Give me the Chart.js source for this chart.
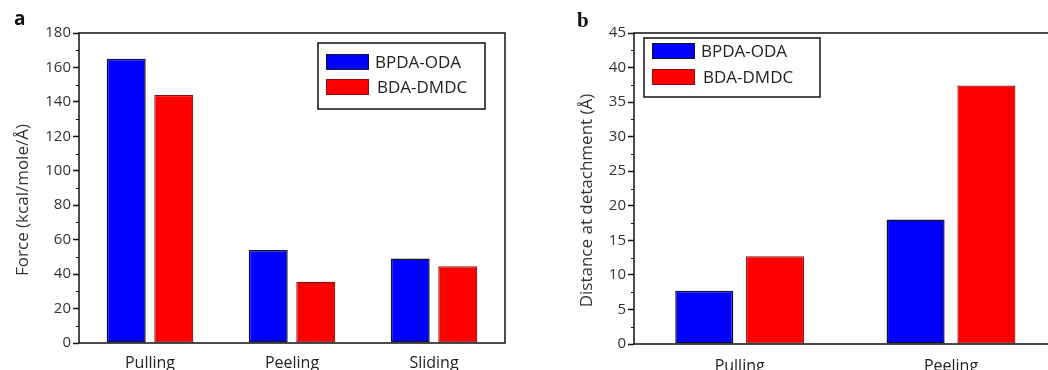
<!DOCTYPE html>
<html><head><meta charset="utf-8">
<script src="https://cdn.jsdelivr.net/npm/chart.js@4"></script>
<style>
html,body{margin:0;padding:0;width:1048px;height:370px;overflow:hidden;background:#fff;}
#wa{position:absolute;left:0;top:0;width:525px;height:370px;}
#wb{position:absolute;left:530px;top:0;width:760px;height:370px;}
.panel{position:absolute;font-weight:bold;color:#111;line-height:1;}
</style></head><body>
<div id="wa"><canvas id="ca"></canvas></div>
<div id="wb"><canvas id="cb"></canvas></div>
<div class="panel" style="left:14px;top:9px;font-family:'Open Sans',sans-serif;font-size:19px;">a</div>
<div class="panel" style="left:577px;top:10px;font-family:'Liberation Serif',serif;font-size:21px;">b</div>
<script>
// ---- data ----
const categoriesA = ['Pulling', 'Peeling', 'Sliding'];
const categoriesB = ['Pulling', 'Peeling', 'Sliding'];
const seriesNames = ['BPDA-ODA', 'BDA-DMDC'];
const forceBPDA = [165, 54, 49];
const forceBDA = [144, 35.5, 44.5];
const distBPDA = [7.7, 18, null];   // Sliding is outside the visible crop
const distBDA = [12.7, 37.4, null];
const ticksA = {max: 180, step: 20, minor: 10};
const ticksB = {max: 45, step: 5, minor: 2.5};

Chart.defaults.font.family = "'Open Sans', sans-serif";
Chart.defaults.color = '#333';
Chart.defaults.animation = false;

const frameAndMinor = {
  id: 'frameAndMinor',
  afterDraw(chart, args, opts) {
    const {ctx, chartArea: a} = chart;
    const y = chart.scales.y;
    ctx.save();
    ctx.strokeStyle = '#111';
    ctx.lineWidth = 1;
    for (let v = opts.minor; v < y.max; v += opts.minor * 2) {
      const py = Math.round(y.getPixelForValue(v)) + 0.5;
      ctx.beginPath(); ctx.moveTo(a.left - 3, py); ctx.lineTo(a.left, py); ctx.stroke();
    }
    ctx.lineWidth = 1.5;
    ctx.strokeRect(a.left, a.top, a.right - a.left, a.bottom - a.top);
    // y axis title
    ctx.save();
    ctx.translate(opts.titleX, (a.top + a.bottom) / 2 + opts.titleShift);
    ctx.rotate(-Math.PI / 2);
    ctx.font = "17px 'Open Sans', sans-serif";
    ctx.fillStyle = '#333';
    ctx.textAlign = 'center';
    ctx.textBaseline = 'middle';
    ctx.fillText(opts.title, 0, 0);
    ctx.restore();
    // legend
    const L = opts.legend;
    ctx.lineWidth = 1.5;
    ctx.strokeStyle = '#111';
    ctx.strokeRect(L.x, L.y, L.w, L.h);
    ctx.font = L.font + "px 'Open Sans', sans-serif";
    ctx.textBaseline = 'middle';
    ctx.textAlign = 'left';
    chart.data.datasets.forEach((ds, i) => {
      const sy = L.sy + i * L.gap;
      ctx.fillStyle = ds.backgroundColor;
      ctx.fillRect(L.sx, sy, L.sw, L.sh);
      ctx.lineWidth = 1;
      ctx.strokeStyle = ds.borderColor;
      ctx.strokeRect(L.sx + 0.5, sy + 0.5, L.sw - 1, L.sh - 1);
      ctx.fillStyle = '#222';
      ctx.fillText(ds.label, L.tx + (i === 1 ? 2 : 0), sy + L.sh / 2 + 1);
    });
    ctx.restore();
  }
};

function makeChart(id, cats, s1, s2, tk, yTitle, yWidth, xHeight, padRight, titleX, xPad, legend) {
  return new Chart(document.getElementById(id), {
    type: 'bar',
    data: {
      labels: cats,
      datasets: [
        {label: seriesNames[0], data: s1, backgroundColor: '#0000ff', borderColor: '#101030', borderWidth: 1.5, borderSkipped: false, categoryPercentage: 0.67, barPercentage: 0.82},
        {label: seriesNames[1], data: s2, backgroundColor: '#ff0000', borderColor: '#8a1010', borderWidth: 1.2, borderSkipped: false, categoryPercentage: 0.67, barPercentage: 0.82}
      ]
    },
    options: {
      responsive: true,
      maintainAspectRatio: false,
      layout: {padding: {top: 33, right: padRight, left: 0, bottom: 0}},
      plugins: {
        legend: {display: false},
        tooltip: {enabled: false},
        frameAndMinor: {minor: tk.minor, legend: legend, title: yTitle, titleX: titleX, titleShift: 12}
      },
      scales: {
        x: {
          grid: {display: false, drawTicks: false},
          border: {display: false},
          ticks: {color: '#222', font: {size: 16}, padding: xPad, maxRotation: 0, autoSkip: false},
          afterFit(s) { s.height = xHeight; }
        },
        y: {
          min: 0, max: tk.max,
          grid: {display: true, drawOnChartArea: false, drawTicks: true, tickLength: 6, tickColor: '#111', tickWidth: 1.5},
          border: {display: false},
          ticks: {stepSize: tk.step, color: '#333', font: {size: 15}, padding: 2},
          title: {display: false},
          afterFit(s) { s.width = yWidth; }
        }
      }
    },
    plugins: [frameAndMinor]
  });
}

makeChart('ca', categoriesA, forceBPDA, forceBDA, ticksA, 'Force (kcal/mole/Å)', 79, 27, 20, 23, 11,
  {x: 318, y: 43, w: 167, h: 66, sx: 326, sy: 54, sw: 43, sh: 16, gap: 25, tx: 375, font: 17});
makeChart('cb', categoriesB, distBPDA, distBDA, ticksB, 'Distance at detachment (Å)', 104, 26, 22, 57, 13,
  {x: 114, y: 38, w: 176, h: 59, sx: 122, sy: 43, sw: 43, sh: 16, gap: 26, tx: 171, font: 17});
</script>
</body></html>
